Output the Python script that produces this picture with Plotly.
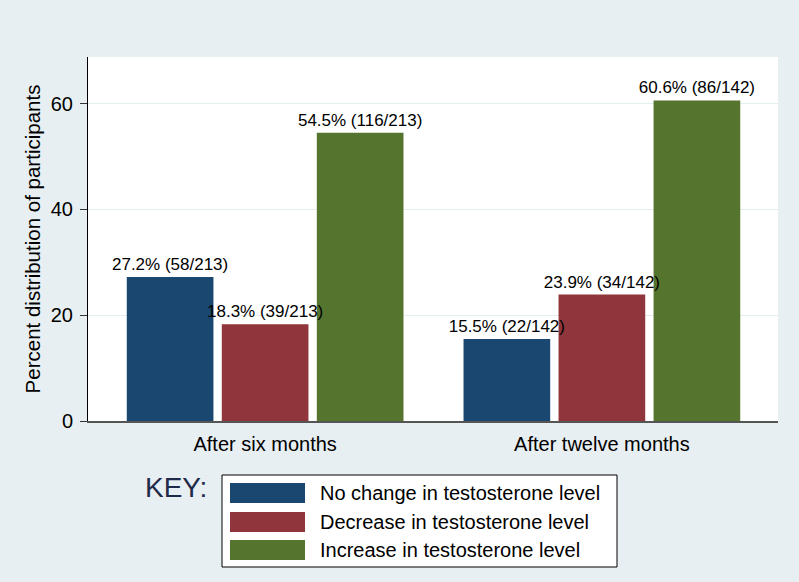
import plotly.graph_objects as go

categories = ["After six months", "After twelve months"]
series_names = ["No change in testosterone level", "Decrease in testosterone level", "Increase in testosterone level"]
no_change = [27.2, 15.5]
decrease = [18.3, 23.9]
increase = [54.5, 60.6]
no_change_labels = ["27.2% (58/213)", "15.5% (22/142)"]
decrease_labels = ["18.3% (39/213)", "23.9% (34/142)"]
increase_labels = ["54.5% (116/213)", "60.6% (86/142)"]
y_ticks = [0, 20, 40, 60]

colors = ["#1a476f", "#90353b", "#55752f"]
values = [no_change, decrease, increase]
labels = [no_change_labels, decrease_labels, increase_labels]
groups = ["a", "b", "c"]

W, H = 799, 582
ML, MR, MT, MB = 88, 21, 57, 161

fig = go.Figure()
# visible bars
for name, vals, col, g in zip(series_names, values, colors, groups):
    fig.add_trace(go.Bar(
        x=categories, y=vals, name=name, offsetgroup=g,
        marker=dict(color=col, line=dict(width=0)), showlegend=False, hoverinfo="skip",
    ))
# transparent duplicates carrying the labels, drawn above all bars
for name, vals, labs, g in zip(series_names, values, labels, groups):
    fig.add_trace(go.Bar(
        x=categories, y=vals, name=name, offsetgroup=g,
        marker=dict(color="rgba(0,0,0,0)", line=dict(width=0)),
        text=labs, textposition="outside", constraintext="none", cliponaxis=False,
        textfont=dict(family="Liberation Sans, Arial, sans-serif", size=17, color="#000000"),
        showlegend=False,
    ))

fig.update_layout(
    width=W, height=H,
    margin=dict(l=ML, r=MR, t=MT, b=MB),
    paper_bgcolor="#e8eff2", plot_bgcolor="#ffffff",
    barmode="group", bargap=0.1535, bargroupgap=0.088,
    font=dict(family="Liberation Sans, Arial, sans-serif", color="#000000"),
    xaxis=dict(range=[-0.526, 1.523], showline=True, linecolor="#555555", linewidth=2,
               ticks="", tickfont=dict(size=20), showgrid=False, zeroline=False, ticklabelstandoff=4),
    yaxis=dict(range=[0, 68.8], tickvals=y_ticks, ticks="outside", ticklen=7, tickcolor="#333333",
               showline=True, linecolor="#000000", linewidth=1, tickfont=dict(size=20),
               gridcolor="#e4eef0", gridwidth=1, zeroline=False, ticklabelstandoff=3,
               title=dict(text="Percent distribution of participants", font=dict(size=20.5), standoff=4)),
)

# Manual legend (key) in pixel-based paper coordinates
def px(x):
    return (x - ML) / (W - ML - MR)

def py(y):
    return (H - MB - y) / (H - MT - MB)

fig.add_shape(type="rect", xref="paper", yref="paper", x0=px(222), x1=px(617), y0=py(475), y1=py(567),
              line=dict(color="#000000", width=1), fillcolor="#ffffff", layer="above")
row_tops = [483, 512, 540]
for name, col, top in zip(series_names, colors, row_tops):
    fig.add_shape(type="rect", xref="paper", yref="paper", x0=px(230), x1=px(305), y0=py(top), y1=py(top + 20),
                  line=dict(width=0), fillcolor=col, layer="above")
    fig.add_annotation(xref="paper", yref="paper", x=px(318), y=py(top + 10), text=name, showarrow=False,
                       xanchor="left", yanchor="middle", font=dict(size=20, color="#000000"))
fig.add_annotation(xref="paper", yref="paper", x=px(143), y=py(487), text="KEY:", showarrow=False,
                   xanchor="left", yanchor="middle", font=dict(size=28, color="#1f2a4a"))

fig.write_html("out.html")
